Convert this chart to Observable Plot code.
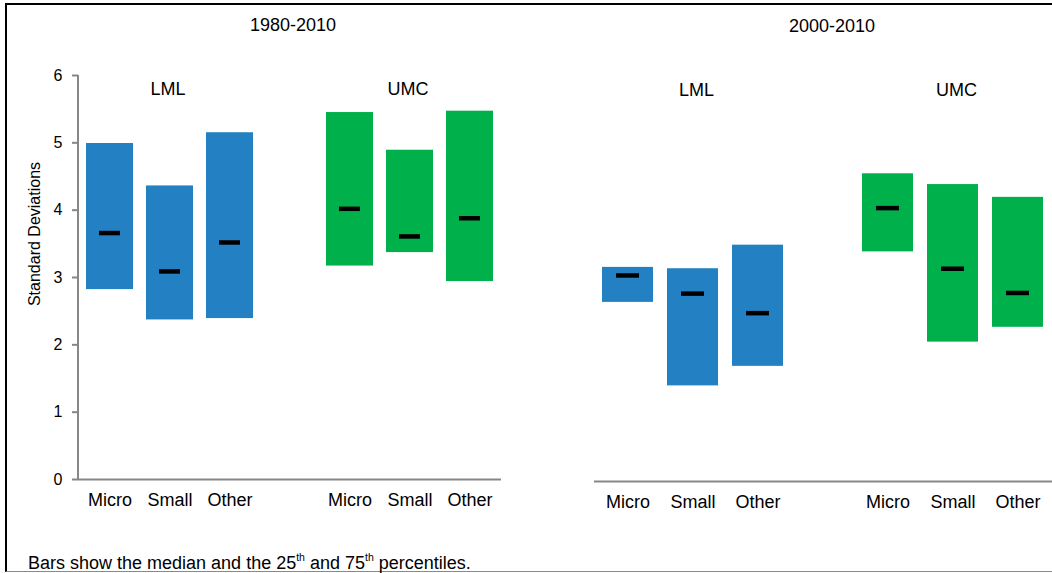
<!DOCTYPE html>
<html>
<head>
<meta charset="utf-8">
<script src="https://cdn.jsdelivr.net/npm/d3@7"></script>
<script src="https://cdn.jsdelivr.net/npm/@observablehq/plot@0.6"></script>
<style>
  html, body { margin: 0; padding: 0; background: #fff; overflow: hidden; }
  #wrap { position: relative; width: 1052px; height: 573px; overflow: hidden; font-family: "Liberation Sans", Arial, sans-serif; color: #000; }
  #frame { position: absolute; left: 5px; top: 3px; width: 1200px; height: 569px; border-top: 2px solid #000; border-left: 2px solid #000; border-bottom: 1px solid #8a8a8a; box-sizing: border-box; }
  #left { position: absolute; left: 0; top: 0; }
  #right { position: absolute; left: 540px; top: 0; }
  #ylabel { position: absolute; left: 35px; top: 234px; transform: translate(-50%, -50%) rotate(-90deg); font-size: 16px; white-space: nowrap; }
  #caption { position: absolute; left: 28px; top: 553px; font-size: 18px; white-space: nowrap; }
  #caption sup { font-size: 10.5px; vertical-align: 8px; line-height: 0; }
</style>
</head>
<body>
<div id="wrap">
  <div id="frame"></div>
  <div id="left"></div>
  <div id="right"></div>
  <div id="ylabel">Standard Deviations</div>
  <div id="caption">Bars show the median and the 25<sup>th</sup> and 75<sup>th</sup> percentiles.</div>
</div>
<script>
// ---- data ----
const periods = ["1980-2010", "2000-2010"];
const groups = ["LML", "UMC"];
const firmTypes = ["Micro", "Small", "Other"];
const yTicks = [0, 1, 2, 3, 4, 5, 6];

// order: LML Micro, LML Small, LML Other, UMC Micro, UMC Small, UMC Other
const p25_1980 = [2.82, 2.37, 2.39, 3.17, 3.37, 2.94];
const median_1980 = [3.66, 3.09, 3.52, 4.02, 3.61, 3.88];
const p75_1980 = [4.99, 4.36, 5.15, 5.45, 4.89, 5.47];

const p25_2000 = [2.66, 1.42, 1.71, 3.41, 2.07, 2.29];
const median_2000 = [3.06, 2.79, 2.50, 4.06, 3.16, 2.80];
const p75_2000 = [3.18, 3.16, 3.51, 4.57, 4.41, 4.22];

const blue = "#2381c3";
const green = "#00b04a";
const gray = "#878787";

const keys = [];
groups.forEach(g => firmTypes.forEach(t => keys.push(g + "|" + t)));
const xDomain = [...keys.slice(0, 3), "gap", ...keys.slice(3)];

function rowsFor(p25, med, p75) {
  return keys.map((k, i) => ({key: k, group: groups[Math.floor(i / 3)], type: firmTypes[i % 3], p25: p25[i], median: med[i], p75: p75[i]}));
}

function panel({title, rows, width, height, marginLeft, marginRight, marginTop, marginBottom, showY, inset, titleDx, titleDy, groupDx, groupDy}) {
  const marks = [
    Plot.barY(rows, {x: "key", y1: "p25", y2: "p75", fill: "group"}),
    Plot.tickY(rows, {x: "key", y: "median", stroke: "#000", strokeWidth: 4.5, insetLeft: inset, insetRight: inset}),
    Plot.ruleY([0], {stroke: gray, strokeWidth: 2}),
    Plot.axisX({ticks: keys, tickFormat: d => d.split("|")[1], tickSize: 0, tickPadding: 14, fontSize: 18, label: null}),
    Plot.text([title], {x: () => "gap", frameAnchor: "top", dy: titleDy, dx: titleDx, fontSize: 18}),
    Plot.text(groups, {x: g => g + "|Small", frameAnchor: "top", dy: groupDy, dx: groupDx, fontSize: 18})
  ];
  if (showY) {
    marks.push(
      Plot.axisY({ticks: yTicks, tickFormat: d => String(d), tickSize: 6, tickPadding: 10, fontSize: 16, stroke: gray, strokeWidth: 2, label: null}),
      (index, scales, channels, dims) => {
        const l = d3.create("svg:line")
          .attr("x1", dims.marginLeft).attr("x2", dims.marginLeft)
          .attr("y1", scales.y(0) + 1).attr("y2", scales.y(6))
          .attr("stroke", gray).attr("stroke-width", 2);
        return l.node();
      }
    );
  }
  return Plot.plot({
    width, height, marginLeft, marginRight, marginTop, marginBottom,
    style: {fontFamily: "'Liberation Sans', Arial, sans-serif", fontSize: "18px", color: "#000", background: "transparent", overflow: "visible"},
    x: {domain: xDomain, paddingInner: 0.215, paddingOuter: 0.117, axis: null},
    y: {domain: [0, 6], axis: null},
    color: {domain: groups, range: [blue, green]},
    marks
  });
}

document.getElementById("left").append(panel({
  title: periods[0], rows: rowsFor(p25_1980, median_1980, p75_1980),
  width: 520, height: 520, marginLeft: 78, marginRight: 19, marginTop: 75, marginBottom: 41,
  showY: true, inset: 13, titleDx: 3, titleDy: -57, groupDx: -2, groupDy: 7
}));

document.getElementById("right").append(panel({
  title: periods[1], rows: rowsFor(p25_2000, median_2000, p75_2000),
  width: 512, height: 520, marginLeft: 54, marginRight: 0, marginTop: 77, marginBottom: 39,
  showY: false, inset: 14, titleDx: 9, titleDy: -58, groupDx: 3.5, groupDy: 6
}));
</script>
</body>
</html>
